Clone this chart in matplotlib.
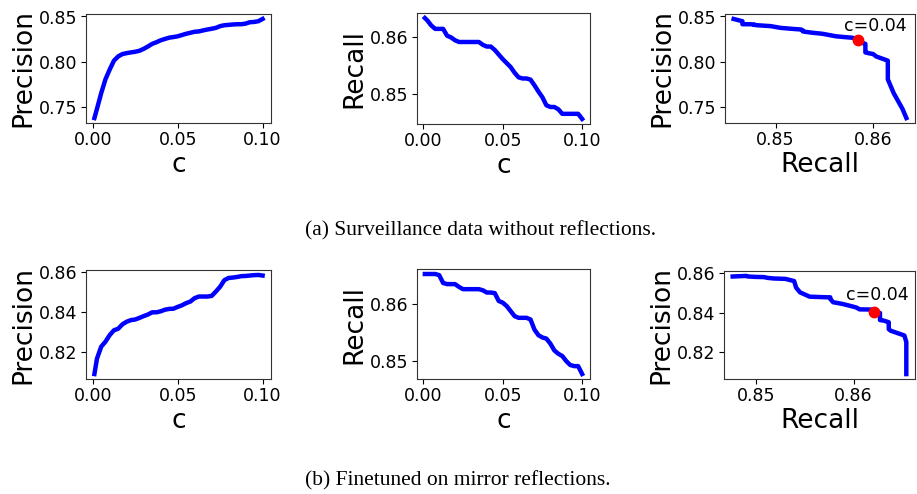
import matplotlib
matplotlib.use("Agg")
import matplotlib.pyplot as plt
from matplotlib.ticker import FormatStrFormatter

plt.rcParams['font.family'] = ['DejaVu Sans']

# ---- data ----
c_values = [0.001, 0.0025, 0.005, 0.0075, 0.010, 0.0125, 0.015, 0.0175, 0.020, 0.0225,
            0.025, 0.0275, 0.030, 0.0325, 0.035, 0.0375, 0.040, 0.0425, 0.045, 0.0475,
            0.050, 0.0525, 0.055, 0.0575, 0.060, 0.0625, 0.065, 0.0675, 0.070, 0.0725,
            0.075, 0.0775, 0.080, 0.0825, 0.085, 0.0875, 0.090, 0.0925, 0.095, 0.0975, 0.100]

# (a) surveillance data without reflections
precision_a = [0.7383, 0.7484, 0.7657, 0.7809, 0.7917, 0.8014, 0.8061, 0.8087, 0.8097, 0.8105,
               0.8112, 0.8123, 0.8144, 0.8170, 0.8199, 0.8217, 0.8238, 0.8253, 0.8267, 0.8274,
               0.8282, 0.8296, 0.8310, 0.8321, 0.8332, 0.8336, 0.8347, 0.8357, 0.8365, 0.8375,
               0.8394, 0.8404, 0.8408, 0.8412, 0.8415, 0.8415, 0.8422, 0.8437, 0.8440, 0.8448, 0.8473]
recall_a = [0.8634, 0.8630, 0.8621, 0.8615, 0.8615, 0.8615, 0.8603, 0.8600, 0.8595, 0.8592,
            0.8592, 0.8592, 0.8592, 0.8592, 0.8592, 0.8587, 0.8584, 0.8584, 0.8578, 0.8570,
            0.8562, 0.8555, 0.8548, 0.8538, 0.8530, 0.8528, 0.8528, 0.8526, 0.8516, 0.8505,
            0.8495, 0.8481, 0.8478, 0.8478, 0.8474, 0.8466, 0.8466, 0.8466, 0.8466, 0.8466, 0.8457]

# (b) finetuned on mirror reflections
precision_b = [0.8089, 0.8166, 0.8226, 0.8251, 0.8284, 0.8308, 0.8316, 0.8338, 0.8351, 0.8359,
               0.8362, 0.8370, 0.8379, 0.8387, 0.8398, 0.8398, 0.8403, 0.8411, 0.8415, 0.8416,
               0.8425, 0.8433, 0.8444, 0.8452, 0.8469, 0.8477, 0.8477, 0.8477, 0.8480, 0.8502,
               0.8526, 0.8559, 0.8570, 0.8572, 0.8575, 0.8579, 0.8580, 0.8582, 0.8584, 0.8585, 0.8582]
recall_b = [0.8654, 0.8654, 0.8654, 0.8654, 0.8652, 0.8638, 0.8636, 0.8636, 0.8636, 0.8631,
            0.8627, 0.8627, 0.8627, 0.8627, 0.8627, 0.8625, 0.8621, 0.8621, 0.8620, 0.8606,
            0.8603, 0.8597, 0.8588, 0.8579, 0.8576, 0.8576, 0.8576, 0.8573, 0.8555, 0.8545,
            0.8541, 0.8539, 0.8530, 0.8518, 0.8512, 0.8508, 0.8499, 0.8492, 0.8490, 0.8490, 0.8476]

highlight_c = 0.04
highlight_label = "c=0.04"

c_ticks = [0.00, 0.05, 0.10]
prec_ticks_a = [0.75, 0.80, 0.85]
rec_ticks_a = [0.85, 0.86]
prec_ticks_b = [0.82, 0.84, 0.86]
rec_ticks_b = [0.85, 0.86]

captions = ["(a) Surveillance data without reflections.",
            "(b) Finetuned on mirror reflections."]

# ---- figure ----
W, H = 917, 494
fig = plt.figure(figsize=(W / 100, H / 100), dpi=100)


def add_ax(x0, y0, x1, y1):
    return fig.add_axes([x0 / W, 1 - y1 / H, (x1 - x0) / W, (y1 - y0) / H])


LABEL_FS = 19
TICK_FS = 12.5
LW = 3.2
hi = c_values.index(highlight_c)


def style(ax, xticks, yticks):
    ax.set_xticks(xticks)
    ax.set_yticks(yticks)
    ax.xaxis.set_major_formatter(FormatStrFormatter('%.2f'))
    ax.yaxis.set_major_formatter(FormatStrFormatter('%.2f'))
    ax.tick_params(labelsize=TICK_FS, length=3.5, width=0.8, pad=2.5)
    for s in ax.spines.values():
        s.set_linewidth(0.8)
        s.set_color('#333333')


rows = [
    (precision_a, recall_a, prec_ticks_a, rec_ticks_a,
     [(86, 14, 271, 123), (417, 13, 590, 124), (725, 14, 915, 123)], (-10, 6.5)),
    (precision_b, recall_b, prec_ticks_b, rec_ticks_b,
     [(86, 270, 271, 379), (417, 269, 590, 379), (724, 271, 915, 379)], (-20, 8.5)),
]

for prec, rec, pt, rt, boxes, offs in rows:
    a1 = add_ax(*boxes[0])
    a1.plot(c_values, prec, color='blue', lw=LW)
    a1.set_xlabel('c', fontsize=LABEL_FS, labelpad=2)
    a1.set_ylabel('Precision', fontsize=LABEL_FS, labelpad=2)
    style(a1, c_ticks, pt)

    a2 = add_ax(*boxes[1])
    a2.plot(c_values, rec, color='blue', lw=LW)
    a2.set_xlabel('c', fontsize=LABEL_FS, labelpad=2)
    a2.set_ylabel('Recall', fontsize=LABEL_FS, labelpad=2)
    style(a2, c_ticks, rt)

    a3 = add_ax(*boxes[2])
    a3.plot(rec, prec, color='blue', lw=LW)
    a3.plot([rec[hi]], [prec[hi]], 'o', color='red', ms=7.5, zorder=5)
    a3.annotate(highlight_label, (rec[hi], prec[hi]), xytext=offs,
                textcoords='offset points', ha='left', va='baseline',
                fontsize=TICK_FS, annotation_clip=False)
    a3.set_xlabel('Recall', fontsize=LABEL_FS, labelpad=2)
    a3.set_ylabel('Precision', fontsize=LABEL_FS, labelpad=2)
    style(a3, rt, pt)

fig.text(305 / W, 1 - 231 / H, captions[0], family='Liberation Serif', fontsize=15.5,
         ha='left', va='center')
fig.text(305 / W, 1 - 481 / H, captions[1], family='Liberation Serif', fontsize=15.5,
         ha='left', va='center')

fig.savefig('out.png', dpi=100)
